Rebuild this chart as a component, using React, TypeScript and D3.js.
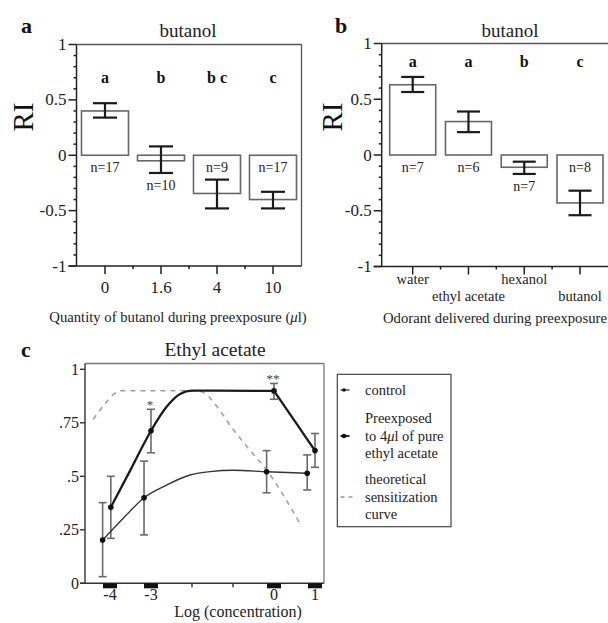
import React from "react";
import * as d3 from "d3";

const FONT = "Liberation Serif, Times New Roman, serif";

// ---------- Panel a data ----------
const quantityCats = ["0", "1.6", "4", "10"];
const quantityMeans = [0.4, -0.05, -0.345, -0.4];
const quantityErrHigh = [0.47, 0.08, -0.22, -0.33];
const quantityErrLow = [0.34, -0.16, -0.48, -0.48];
const quantityN = ["n=17", "n=10", "n=9", "n=17"];
const quantityGroups = ["a", "b", "b c", "c"];

// ---------- Panel b data ----------
const odorantCats = ["water", "ethyl acetate", "hexanol", "butanol"];
const odorantMeans = [0.63, 0.3, -0.11, -0.43];
const odorantErrHigh = [0.7, 0.39, -0.06, -0.32];
const odorantErrLow = [0.565, 0.205, -0.17, -0.54];
const odorantN = ["n=7", "n=6", "n=7", "n=8"];
const odorantGroups = ["a", "a", "b", "c"];

const riTicks = [1, 0.5, 0, -0.5, -1];
const riTickLabels = ["1", "0.5", "0", "-0.5", "-1"];

// ---------- Panel c data ----------
const concTicks = [-4, -3, 0, 1];
const concMinorTicks = [-2, -1];
const concTickLabels = ["-4", "-3", "0", "1"];
const respTicks = [0, 0.25, 0.5, 0.75, 1];
const respTickLabels = ["0", ".25", ".5", ".75", "1"];

const controlX = [-4.18, -3.17, -0.18, 0.81];
const controlMean = [0.202, 0.4, 0.521, 0.514];
const controlHigh = [0.377, 0.571, 0.62, 0.6];
const controlLow = [0.031, 0.226, 0.423, 0.436];

const preX = [-3.98, -3.0, 0.0, 1.0];
const preMean = [0.355, 0.713, 0.899, 0.62];
const preHigh = [0.5, 0.813, 0.934, 0.7];
const preLow = [0.21, 0.61, 0.86, 0.542];
const preStars = ["", "*", "**", ""];

const preFitX = [-3.98, -3.5, -3.0, -2.62, -2.29, -2.0, -1.5, 0.0];
const preFitY = [0.355, 0.53, 0.713, 0.825, 0.885, 0.9, 0.9, 0.899];
const preDropX = [0.0, 1.0];
const preDropY = [0.899, 0.62];

const controlFitX = [-4.18, -3.67, -3.17, -2.62, -2.05, -1.56, -0.99, -0.18, 0.81];
const controlFitY = [0.202, 0.305, 0.4, 0.459, 0.506, 0.522, 0.528, 0.521, 0.514];

const theoryX = [-4.41, -4.24, -4.08, -3.9, -3.7, -1.9, -1.7, -1.45, -1.0, -0.6, -0.18, 0.2, 0.63];
const theoryY = [0.766, 0.81, 0.848, 0.885, 0.9, 0.9, 0.89, 0.84, 0.72, 0.625, 0.53, 0.42, 0.28];

type BarCfg = {
  cats: string[];
  means: number[];
  hi: number[];
  lo: number[];
  ns: string[];
  groups: string[];
  axisX: number;
  frameRight: number;
  yTop: number;
  yBot: number;
  c0: number;
  c1: number;
  barW: number;
  capW: number;
  letterY: number;
  staggerLabels: boolean;
  tickLabelY: number;
  tickFont: number;
};

function BarPanel(cfg: BarCfg) {
  const y = d3.scaleLinear().domain([-1, 1]).range([cfg.yBot, cfg.yTop]);
  const x = d3.scalePoint<string>().domain(cfg.cats).range([cfg.c0, cfg.c1]);
  const step = x.step();
  const minor = d3.range(-10, 11).map((i) => i / 10).filter((v) => Math.abs((v * 10) % 5) > 0.01);
  const mids = cfg.cats.slice(0, -1).map((c) => (x(c) as number) + step / 2);
  return (
    <g>
      <line x1={cfg.axisX} x2={cfg.frameRight} y1={cfg.yTop} y2={cfg.yTop} stroke="#555" strokeWidth={1.3} />
      <line x1={cfg.frameRight} x2={cfg.frameRight} y1={cfg.yTop} y2={cfg.yBot} stroke="#555" strokeWidth={1.3} />
      <line x1={cfg.axisX} x2={cfg.axisX} y1={cfg.yTop} y2={cfg.yBot} stroke="#222" strokeWidth={1.5} />
      <line x1={cfg.axisX - 8} x2={cfg.frameRight} y1={cfg.yBot} y2={cfg.yBot} stroke="#222" strokeWidth={1.5} />
      {riTicks.map((t, i) => (
        <g key={"yt" + i}>
          <line x1={cfg.axisX - 8} x2={cfg.axisX} y1={y(t)} y2={y(t)} stroke="#222" strokeWidth={1.5} />
          <text x={cfg.axisX - 10} y={y(t) + 5.5} textAnchor="end" fontSize={17} fontFamily={FONT} fill="#222">
            {riTickLabels[i]}
          </text>
        </g>
      ))}
      {minor.map((t, i) => (
        <line key={"ym" + i} x1={cfg.axisX - 3} x2={cfg.axisX} y1={y(t)} y2={y(t)} stroke="#222" strokeWidth={1.5} />
      ))}
      {cfg.cats.map((c, i) => (
        <line key={"xt" + i} x1={x(c)} x2={x(c)} y1={cfg.yBot} y2={cfg.yBot + 8} stroke="#222" strokeWidth={1.5} />
      ))}
      {mids.map((m, i) => (
        <line key={"xm" + i} x1={m} x2={m} y1={cfg.yBot} y2={cfg.yBot + 3} stroke="#222" strokeWidth={1.5} />
      ))}
      {cfg.cats.map((c, i) => (
        <text
          key={"xl" + i}
          x={x(c)}
          y={cfg.staggerLabels ? cfg.tickLabelY + (i % 2) * 17 : cfg.tickLabelY}
          textAnchor="middle"
          fontSize={cfg.tickFont}
          fontFamily={FONT}
          fill="#222"
        >
          {c}
        </text>
      ))}
      {cfg.cats.map((c, i) => {
        const cx = x(c) as number;
        const v = cfg.means[i];
        return (
          <rect
            key={"b" + i}
            x={cx - cfg.barW / 2}
            y={Math.min(y(v), y(0))}
            width={cfg.barW}
            height={Math.abs(y(v) - y(0))}
            fill="#fff"
            stroke="#666"
            strokeWidth={1.6}
          />
        );
      })}
      {cfg.cats.map((c, i) => {
        const cx = x(c) as number;
        return (
          <g key={"e" + i} stroke="#1a1a1a" strokeWidth={2.2}>
            <line x1={cx} x2={cx} y1={y(cfg.hi[i])} y2={y(cfg.lo[i])} />
            <line x1={cx - cfg.capW / 2} x2={cx + cfg.capW / 2} y1={y(cfg.hi[i])} y2={y(cfg.hi[i])} />
            <line x1={cx - cfg.capW / 2} x2={cx + cfg.capW / 2} y1={y(cfg.lo[i])} y2={y(cfg.lo[i])} />
          </g>
        );
      })}
      {cfg.cats.map((c, i) => {
        const v = cfg.means[i];
        const ny = v < 0 && v > -0.2 ? y(cfg.lo[i]) + 17 : y(0) + 17;
        return (
          <text key={"n" + i} x={x(c)} y={ny} textAnchor="middle" fontSize={14} fontFamily={FONT} fill="#222">
            {cfg.ns[i]}
          </text>
        );
      })}
      {cfg.cats.map((c, i) => (
        <text
          key={"g" + i}
          x={x(c)}
          y={cfg.letterY}
          textAnchor="middle"
          fontSize={16}
          fontWeight="bold"
          fontFamily={FONT}
          fill="#111"
        >
          {cfg.groups[i]}
        </text>
      ))}
    </g>
  );
}

function PanelC() {
  const left = 85;
  const right = 324;
  const top = 363.5;
  const bottom = 583.3;
  const x = d3.scaleLinear().domain([-4, 1]).range([110, 315]);
  const y = d3.scaleLinear().domain([0, 1]).range([583.3, 369.3]);
  const smooth = d3
    .line<[number, number]>()
    .x((d) => x(d[0]))
    .y((d) => y(d[1]))
    .curve(d3.curveMonotoneX);
  const straight = d3
    .line<[number, number]>()
    .x((d) => x(d[0]))
    .y((d) => y(d[1]));
  const zip = (a: number[], b: number[]) => a.map((v, i) => [v, b[i]] as [number, number]);
  const errBars = (xs: number[], hi: number[], lo: number[], key: string) =>
    xs.map((v, i) => (
      <g key={key + i} stroke="#6a6a6a" strokeWidth={1.6}>
        <line x1={x(v)} x2={x(v)} y1={y(hi[i])} y2={y(lo[i])} />
        <line x1={x(v) - 4} x2={x(v) + 4} y1={y(hi[i])} y2={y(hi[i])} />
        <line x1={x(v) - 4} x2={x(v) + 4} y1={y(lo[i])} y2={y(lo[i])} />
      </g>
    ));
  return (
    <g>
      <line x1={left} x2={right} y1={top} y2={top} stroke="#777" strokeWidth={1.3} />
      <line x1={right} x2={right} y1={top} y2={bottom} stroke="#777" strokeWidth={1.3} />
      <line x1={left} x2={left} y1={top} y2={bottom} stroke="#333" strokeWidth={1.4} />
      <line x1={left - 5} x2={right} y1={bottom} y2={bottom} stroke="#333" strokeWidth={1.4} />
      {respTicks.map((t, i) => (
        <g key={"ry" + i}>
          <line x1={left - 5} x2={left} y1={y(t)} y2={y(t)} stroke="#333" strokeWidth={1.4} />
          <text x={left - 6} y={y(t) + 5.5} textAnchor="end" fontSize={16} fontFamily={FONT} fill="#222">
            {respTickLabels[i]}
          </text>
        </g>
      ))}
      {concTicks.map((t, i) => (
        <g key={"cx" + i}>
          <rect x={x(t) - 7} y={bottom} width={14} height={5} fill="#111" />
          <text x={x(t)} y={600} textAnchor="middle" fontSize={16} fontFamily={FONT} fill="#222">
            {concTickLabels[i]}
          </text>
        </g>
      ))}
      {concMinorTicks.map((t, i) => (
        <line key={"cm" + i} x1={x(t)} x2={x(t)} y1={bottom} y2={bottom + 4} stroke="#333" strokeWidth={1.4} />
      ))}
      <path d={smooth(zip(theoryX, theoryY)) || ""} fill="none" stroke="#a0a0a0" strokeWidth={1.6} strokeDasharray="5,5" />
      {errBars(controlX, controlHigh, controlLow, "ce")}
      {errBars(preX, preHigh, preLow, "pe")}
      <path d={smooth(zip(controlFitX, controlFitY)) || ""} fill="none" stroke="#333" strokeWidth={1.4} />
      <path d={smooth(zip(preFitX, preFitY)) || ""} fill="none" stroke="#1a1a1a" strokeWidth={2.3} />
      <path d={straight(zip(preDropX, preDropY)) || ""} fill="none" stroke="#1a1a1a" strokeWidth={2.3} />
      {controlX.map((v, i) => (
        <circle key={"cp" + i} cx={x(v)} cy={y(controlMean[i])} r={2.8} fill="#111" />
      ))}
      {preX.map((v, i) => (
        <circle key={"pp" + i} cx={x(v)} cy={y(preMean[i])} r={2.8} fill="#111" />
      ))}
      {preX.map((v, i) =>
        preStars[i] ? (
          <text key={"st" + i} x={x(v) - 1} y={y(preHigh[i]) - 0.5} textAnchor="middle" fontSize={13} fontFamily={FONT} fill="#444">
            {preStars[i]}
          </text>
        ) : null
      )}
      <text x={215} y={356} textAnchor="middle" fontSize={19.5} fontFamily={FONT} fill="#222">
        Ethyl acetate
      </text>
      <text x={238} y={617} textAnchor="middle" fontSize={16} fontFamily={FONT} fill="#222">
        Log (concentration)
      </text>
      <text x={21} y={357} fontSize={22} fontWeight="bold" fontFamily={FONT} fill="#111">
        c
      </text>
      <rect x={337.3} y={374.3} width={113.7} height={152.4} fill="#fff" stroke="#444" strokeWidth={1.2} />
      <line x1={340.5} x2={349.5} y1={390} y2={390} stroke="#222" strokeWidth={1.2} />
      <circle cx={344} cy={390} r={1.8} fill="#111" />
      <line x1={340.5} x2={349.5} y1={436} y2={436} stroke="#111" strokeWidth={1.8} />
      <circle cx={344} cy={436} r={2.3} fill="#111" />
      <line x1={340.5} x2={355} y1={497} y2={497} stroke="#999" strokeWidth={1.3} strokeDasharray="4,4" />
      <g fontSize={14.5} fontFamily={FONT} fill="#222">
        <text x={365} y={394.5} fontFamily={FONT}>control</text>
        <text x={365} y={422.5} fontFamily={FONT}>Preexposed</text>
        <text x={365} y={440.5} fontFamily={FONT}>
          to 4<tspan fontStyle="italic">μ</tspan>l of pure
        </text>
        <text x={365} y={458} fontFamily={FONT}>ethyl acetate</text>
        <text x={365} y={483.5} fontFamily={FONT}>theoretical</text>
        <text x={365} y={501.5} fontFamily={FONT}>sensitization</text>
        <text x={365} y={519} fontFamily={FONT}>curve</text>
      </g>
    </g>
  );
}

export default function App() {
  return (
    <svg
      width={608}
      height={623}
      style={{ position: "absolute", left: 0, top: 0, background: "#fff", fontFamily: FONT }}
    >
      <rect x={0} y={0} width={608} height={623} fill="#fff" />
      <BarPanel
        cats={quantityCats}
        means={quantityMeans}
        hi={quantityErrHigh}
        lo={quantityErrLow}
        ns={quantityN}
        groups={quantityGroups}
        axisX={76.5}
        frameRight={301.5}
        yTop={44.5}
        yBot={266}
        c0={105}
        c1={273}
        barW={47}
        capW={24}
        letterY={83}
        staggerLabels={false}
        tickLabelY={293}
        tickFont={17}
      />
      <text x={188} y={37} textAnchor="middle" fontSize={19} fontFamily={FONT} fill="#222">
        butanol
      </text>
      <text x={21} y={33} fontSize={22} fontWeight="bold" fontFamily={FONT} fill="#111">
        a
      </text>
      <text transform="translate(33,117) rotate(-90)" textAnchor="middle" fontSize={29} fontFamily={FONT} fill="#111">
        RI
      </text>
      <text x={178} y={322} textAnchor="middle" fontSize={14.7} fontFamily={FONT} fill="#222">
        Quantity of butanol during preexposure (<tspan fontStyle="italic">μ</tspan>l)
      </text>

      <BarPanel
        cats={odorantCats}
        means={odorantMeans}
        hi={odorantErrHigh}
        lo={odorantErrLow}
        ns={odorantN}
        groups={odorantGroups}
        axisX={381.7}
        frameRight={620}
        yTop={43.5}
        yBot={266.5}
        c0={412.7}
        c1={580}
        barW={46}
        capW={23}
        letterY={67}
        staggerLabels={true}
        tickLabelY={284}
        tickFont={14.5}
      />
      <text x={510} y={37} textAnchor="middle" fontSize={19} fontFamily={FONT} fill="#222">
        butanol
      </text>
      <text x={335} y={33} fontSize={22} fontWeight="bold" fontFamily={FONT} fill="#111">
        b
      </text>
      <text transform="translate(341.5,117) rotate(-90)" textAnchor="middle" fontSize={29} fontFamily={FONT} fill="#111">
        RI
      </text>
      <text x={383} y={323} fontSize={14.7} fontFamily={FONT} fill="#222">
        Odorant delivered during preexposure
      </text>

      <PanelC />
    </svg>
  );
}
